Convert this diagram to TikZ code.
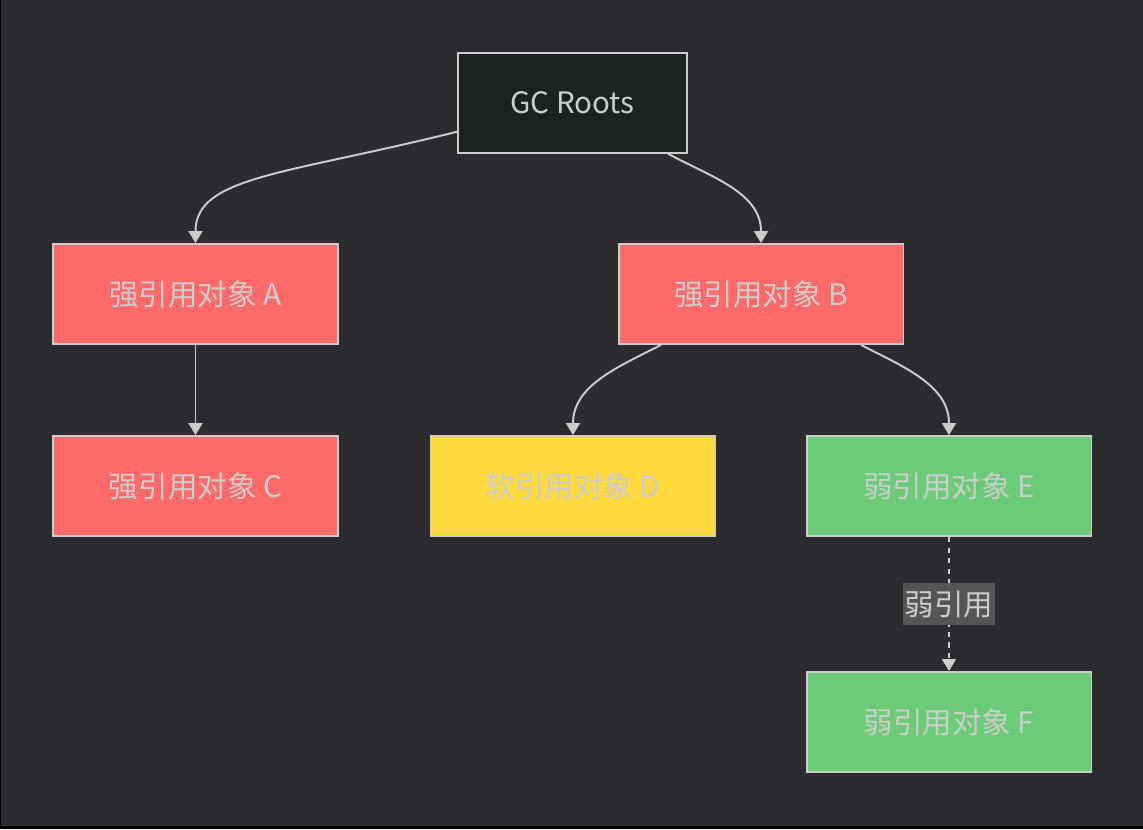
\documentclass[tikz,border=0pt]{standalone}
\usepackage{fontspec}
\setmainfont{Noto Sans CJK SC}
\usetikzlibrary{arrows.meta}
\definecolor{bg}{HTML}{2C2C2E}
\definecolor{rootfill}{HTML}{1F2020}
\definecolor{edge}{HTML}{CCCCCC}
\definecolor{strong}{HTML}{FF6B6B}
\definecolor{soft}{HTML}{FFD93D}
\definecolor{weak}{HTML}{6BCB77}
\definecolor{lblfill}{HTML}{555555}
\begin{document}
\begin{tikzpicture}[x=0.02cm, y=-0.02cm,
		main/.style = {draw=edge, line width=1.1pt, text=edge, minimum width=5.7cm, minimum height=2cm, font=\fontsize{16.8}{20}\selectfont},
		root/.style = {main, fill=rootfill, minimum width=4.58cm},
		str/.style = {main, fill=strong},
		sft/.style = {main, fill=soft},
		wk/.style = {main, fill=weak},
		link/.style = {draw=edge, line width=1.1pt, -{Triangle[width=0.28cm, length=0.24cm]}},
		lbl/.style = {fill=lblfill, text=edge, inner xsep=1pt, inner ysep=4pt, font=\fontsize{16.8}{20}\selectfont}]
		\fill[black] (0,0) rectangle (1143,829);
		\fill[bg] (1,0) rectangle (1143,826);
		\node[root] (gc) at (572.5,103) {GC Roots};
		\node[str] (a) at (195.5,294) {强引用对象 A};
		\node[str] (b) at (761,294) {强引用对象 B};
		\node[str] (c) at (195.5,486) {强引用对象 C};
		\node[sft] (d) at (573,486) {软引用对象 D};
		\node[wk] (e) at (949,486) {弱引用对象 E};
		\node[wk] (f) at (949,722) {弱引用对象 F};
		\draw[link] (gc) to[out=194, in=90, out looseness=1.6, in looseness=0.6] (a);
		\draw[link] (gc) to[out=-28, in=90] (b);
		\draw[link] (a) -- (c);
		\draw[link] (b) to[out=207, in=90] (d);
		\draw[link] (b) to[out=-27, in=90] (e);
		\draw[link, dashed] (e) -- node[lbl] (w) {弱引用} (f);
	\end{tikzpicture}
\end{document}
